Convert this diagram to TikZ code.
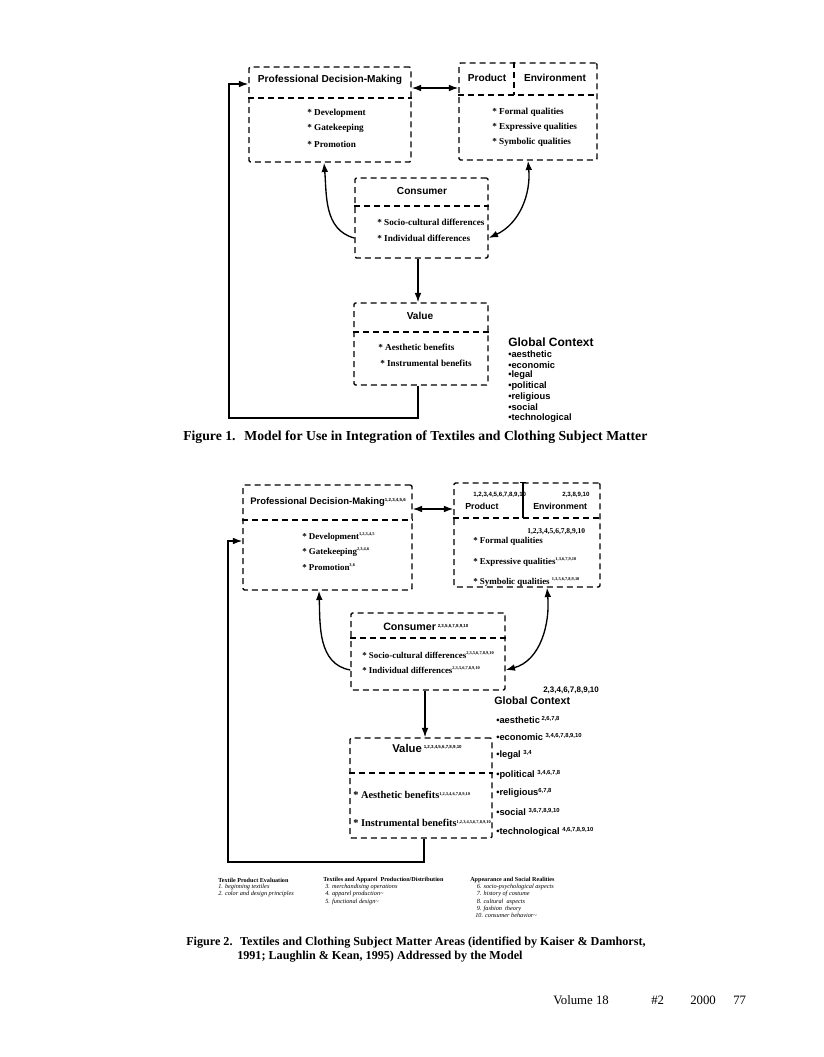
\documentclass[tikz,border=0pt]{standalone}
\usepackage{fontspec}
\setmainfont{Liberation Serif}
\setsansfont{Liberation Sans}
\usetikzlibrary{arrows.meta,calc}
\newcommand{\supn}[1]{\raisebox{2.4pt}{\fontsize{3.3}{4}\selectfont #1}}
\newcommand{\supg}[1]{\raisebox{2.8pt}{\fontsize{4.4}{5}\selectfont #1}}
\tikzset{
  mybox/.style={draw, line width=1.05pt, dash pattern=on 4.5pt off 3pt, rounded corners=1pt, inner sep=0pt},
  mydl/.style={line width=1.05pt, dash pattern=on 4.5pt off 3pt},
  hsA/.style={font=\sffamily\bfseries\fontsize{7.6}{9}\selectfont, inner sep=0pt},
  itA/.style={font=\bfseries\fontsize{6.9}{8}\selectfont, inner sep=0pt, anchor=west},
  gchA/.style={font=\sffamily\bfseries\fontsize{9}{10}\selectfont, inner sep=0pt, anchor=west},
  gciA/.style={font=\sffamily\bfseries\fontsize{7}{8}\selectfont, inner sep=0pt, anchor=west},
  hsB/.style={font=\sffamily\bfseries\fontsize{7.1}{9}\selectfont, inner sep=0pt, anchor=west},
  itB/.style={font=\bfseries\fontsize{6.7}{8}\selectfont, inner sep=0pt, anchor=west},
  numS/.style={font=\sffamily\bfseries\fontsize{4.6}{5}\selectfont, inner sep=0pt, anchor=west},
  gchB/.style={font=\sffamily\bfseries\fontsize{8}{9}\selectfont, inner sep=0pt, anchor=west},
  gciB/.style={font=\sffamily\bfseries\fontsize{7}{8}\selectfont, inner sep=0pt, anchor=west},
  captA/.style={font=\bfseries\fontsize{10.3}{12}\selectfont, inner sep=0pt, anchor=west},
  captB/.style={font=\bfseries\fontsize{9.1}{11}\selectfont, inner sep=0pt, anchor=west},
  fnH/.style={font=\bfseries\fontsize{4.6}{5.4}\selectfont, inner sep=0pt, anchor=west},
  fnI/.style={font=\itshape\fontsize{4.7}{5.4}\selectfont, inner sep=0pt, anchor=north west, align=left},
  foot/.style={font=\fontsize{9.6}{11}\selectfont, inner sep=0pt, anchor=west},
  arr/.style={line width=1pt, -{Latex[length=7pt,width=5pt]}},
  darr/.style={line width=1pt, {Latex[length=7pt,width=5pt]}-{Latex[length=7pt,width=5pt]}},
}
\begin{document}
\begin{tikzpicture}[x=0.75pt,y=-0.75pt]
\fill[white] (0,0) rectangle (824,1057);
\useasboundingbox (0,0) rectangle (824,1057);

% ================= FIGURE 1 =================
\node[mybox, minimum width=121.5pt, minimum height=71.25pt] (pdm) at (330,114.5) {};
\node[mybox, minimum width=103.5pt, minimum height=72.75pt] (pe) at (528,111.5) {};
\node[mybox, minimum width=99.75pt, minimum height=60pt] (con) at (421.5,218) {};
\node[mybox, minimum width=100.5pt, minimum height=61.5pt] (val) at (421,344) {};

\coordinate (d1) at (0,98);
\coordinate (d2) at (0,95);
\coordinate (d3) at (0,206);
\coordinate (d4) at (0,332);
\coordinate (v1) at (514,0);
\draw[mydl] (pdm.west |- d1) -- (pdm.east |- d1);
\draw[mydl] (pe.west |- d2) -- (pe.east |- d2);
\draw[mydl] (v1 |- pe.north) -- (v1 |- d2);
\draw[mydl] (con.west |- d3) -- (con.east |- d3);
\draw[mydl] (val.west |- d4) -- (val.east |- d4);

\node[hsA] (pdmh) at (330,80) {Professional Decision-Making};
\node[itA] (pdma) at (307,113) {* Development};
\node[itA] (pdmb) at (307,128) {* Gatekeeping};
\node[itA] (pdmc) at (307,144) {* Promotion};

\node[hsA] (peh1) at (487,78) {Product};
\node[hsA] (peh2) at (555,78) {Environment};
\node[itA] (pea) at (492,112) {* Formal qualities};
\node[itA] (peb) at (492,127) {* Expressive qualities};
\node[itA] (pec) at (492,142) {* Symbolic qualities};

\node[hsA] (conh) at (422,191) {Consumer};
\node[itA] (cona) at (377,222) {* Socio-cultural differences};
\node[itA] (conb) at (377,238) {* Individual differences};

\node[hsA] (valh) at (420,316) {Value};
\node[itA] (vala) at (378,347) {* Aesthetic benefits};
\node[itA] (valb) at (380,363) {* Instrumental benefits};

\node[gchA] (gcA) at (508,342) {Global Context};
\node[gciA] (gA1) at (508,354) {•aesthetic};
\node[gciA] (gA2) at (508,364.7) {•economic};
\node[gciA] (gA3) at (508,375.3) {•legal};
\node[gciA] (gA4) at (508,386) {•political};
\node[gciA] (gA5) at (508,396.7) {•religious};
\node[gciA] (gA6) at (508,407.3) {•social};
\node[gciA] (gA7) at (508,418) {•technological};

% connectors fig 1
\coordinate (dA1) at (0,88);
\draw[darr] (pdm.east |- dA1) -- (pe.west |- dA1);
\draw[arr] (con.west |- conb) to[out=165,in=-85] ([xshift=-4.5pt]pdm.south);
\draw[darr] (pe.south) to[out=-85,in=25] (con.east |- conb);
\coordinate (a1x) at (418,0);
\draw[arr] (a1x |- con.south) -- (a1x |- val.north);
\coordinate (fbc1) at (229,418);
\coordinate (fbe1) at (229,84);
\draw[arr] (a1x |- val.south) -- (a1x |- fbc1) -- (fbc1) -- (fbe1) -- (pdm.west |- fbe1);

\node[captA] (cap1) at (183,437) {Figure 1.\hspace{0.3em} Model for Use in Integration of Textiles and Clothing Subject Matter};

% ================= FIGURE 2 =================
\node[mybox, minimum width=126.75pt, minimum height=78.75pt] (pdmB) at (327.5,537.5) {};
\node[mybox, minimum width=109.5pt, minimum height=78pt] (peB) at (527,535) {};
\node[mybox, minimum width=115.5pt, minimum height=57.75pt] (conB) at (428,651.5) {};
\node[mybox, minimum width=106.5pt, minimum height=75pt] (valB) at (421,788) {};

\coordinate (e1) at (0,520);
\coordinate (e2) at (0,518);
\coordinate (e3) at (0,638);
\coordinate (e4) at (0,773);
\coordinate (v2) at (523,0);
\draw[mydl] (pdmB.west |- e1) -- (pdmB.east |- e1);
\draw[mydl] (peB.west |- e2) -- (peB.east |- e2);
\draw[line width=1pt] ([xshift=-2pt]v2 |- peB.north) -- ([xshift=2pt]v2 |- peB.north);
\draw[line width=1pt] (v2 |- peB.north) -- (v2 |- e2);
\draw[mydl] (conB.west |- e3) -- (conB.east |- e3);
\draw[mydl] (valB.west |- e4) -- (valB.east |- e4);

\node[hsB] (pdmBh) at (250,502) {Professional Decision-Making\supn{1,2,3,4,5,6}};
\node[itB] (pdmBa) at (302,537) {* Development\supn{1,2,3,4,5}};
\node[itB] (pdmBb) at (302,552) {* Gatekeeping\supn{2,3,4,6}};
\node[itB] (pdmBc) at (302,567) {* Promotion\supn{3,6}};

\node[numS] (peBn1) at (473,495) {1,2,3,4,5,6,7,8,9,10};
\node[hsB, font=\sffamily\bfseries\fontsize{6.6}{8}\selectfont] (peBh1) at (465,506) {Product};
\node[numS] (peBn2) at (562,495) {2,3,8,9,10};
\node[hsB, font=\sffamily\bfseries\fontsize{6.6}{8}\selectfont] (peBh2) at (533,506) {Environment};
\node[itB, font=\bfseries\fontsize{5.6}{6}\selectfont] (peBn3) at (527,532) {1,2,3,4,5,6,7,8,9,10};
\node[itB] (peBa) at (473,541) {* Formal qualities};
\node[itB] (peBb) at (473,562) {* Expressive qualities\supn{1,3,6,7,9,10}};
\node[itB] (peBc) at (473,582) {* Symbolic qualities \supn{1,3,5,6,7,8,9,10}};

\node[hsB, font=\sffamily\bfseries\fontsize{8}{9}\selectfont] (conBh) at (383,627) {Consumer\,\supn{2,3,5,6,7,8,9,10}};
\node[itB] (conBa) at (362,655) {* Socio-cultural differences\supn{2,3,5,6,7,8,9,10}};
\node[itB] (conBb) at (362,670) {* Individual differences\supn{2,3,5,6,7,8,9,10}};

\node[hsB, font=\sffamily\bfseries\fontsize{8.5}{9}\selectfont] (valBh) at (392,748) {Value\,\supn{1,2,3,4,5,6,7,8,9,10}};
\node[itB, font=\bfseries\fontsize{7.8}{9}\selectfont] (valBa) at (353,795) {* Aesthetic benefits\supn{1,2,3,4,6,7,8,9,10}};
\node[itB, font=\bfseries\fontsize{7.8}{9}\selectfont] (valBb) at (353,823) {* Instrumental benefits\supn{1,2,3,4,5,6,7,8,9,10}};

\node[numS, font=\sffamily\bfseries\fontsize{6}{7}\selectfont] (gcBn) at (543,690) {2,3,4,6,7,8,9,10};
\node[gchB] (gcB) at (494,701) {Global Context};
\node[gciB] (gB1) at (496,720) {•aesthetic\,\supg{2,6,7,8}};
\node[gciB] (gB2) at (496,737) {•economic \supg{3,4,6,7,8,9,10}};
\node[gciB] (gB3) at (496,755) {•legal \supg{3,4}};
\node[gciB] (gB4) at (496,775) {•political \supg{3,4,6,7,8}};
\node[gciB] (gB5) at (496,793) {•religious\supg{6,7,8}};
\node[gciB] (gB6) at (496,812) {•social \supg{3,6,7,8,9,10}};
\node[gciB] (gB7) at (496,832) {•technological \supg{4,6,7,8,9,10}};

% connectors fig 2
\coordinate (dB1) at (0,509);
\draw[darr] (pdmB.east |- dB1) -- (peB.west |- dB1);
\draw[arr] (conB.west |- conBb) to[out=170,in=-88] ([xshift=-6.4pt]pdmB.south);
\draw[darr] ([xshift=15pt]peB.south) to[out=-85,in=15] (conB.east |- conBb);
\coordinate (a2x) at (425,0);
\draw[arr] (a2x |- conB.south) -- (a2x |- valB.north);
\coordinate (b2x) at (424,0);
\coordinate (fbc2) at (228,862);
\coordinate (fbe2) at (228,541);
\draw[arr] (b2x |- valB.south) -- (b2x |- fbc2) -- (fbc2) -- (fbe2) -- (pdmB.west |- fbe2);

% footnotes
\node[fnH] (fh1) at (218,880) {Textile Product Evaluation};
\node[fnI] (fi1) at (218,884) {1. beginning textiles\\2. color and design principles};
\node[fnH] (fh2) at (323,880) {Textiles and Apparel\ \ Production/Distribution};
\node[fnI] (fi2) at (325,884) {3. merchandising operations\\4. apparel production\textasciitilde\\5. functional design\textasciitilde};
\node[fnH] (fh3) at (470,880) {Appearance and Social Realities};
\node[fnI] (fi3) at (475,884) {\ 6. socio-psychological aspects\\\ 7. history of costume\\\ 8. cultural\ \ aspects\\\ 9. fashion\ \ theory\\10. consumer behavior\textasciitilde};

\node[captB] (cap2a) at (186,943) {Figure 2.\hspace{0.3em} Textiles and Clothing Subject Matter Areas (identified by Kaiser \& Damhorst,};
\node[captB] (cap2b) at (237,957) {1991; Laughlin \& Kean, 1995) Addressed by the Model};

% page footer
\node[foot] (ft1) at (553,1000) {Volume 18};
\node[foot] (ft2) at (651,1000) {\#2};
\node[foot] (ft3) at (690,1000) {2000};
\node[foot] (ft4) at (733,1000) {77};
\end{tikzpicture}
\end{document}
